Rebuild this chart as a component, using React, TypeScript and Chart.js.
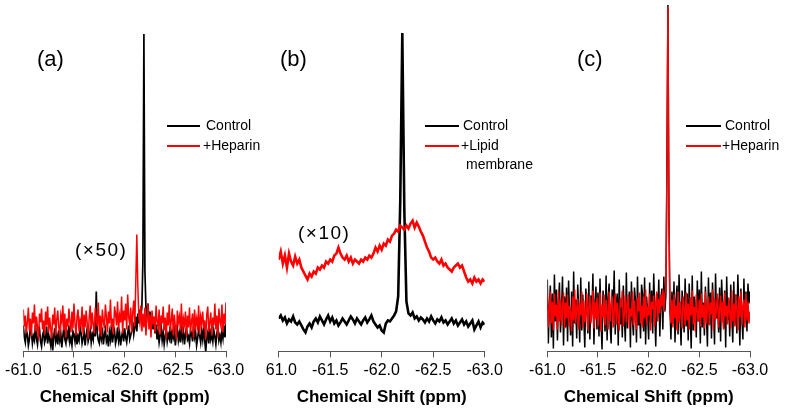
import React, { useEffect, useRef } from "react";
import { Chart, registerables } from "chart.js";

Chart.register(...registerables);

// Chemical shift sampling (ppm): fine grid (0.01 ppm) for (a),(c); coarse grid (0.02 ppm) for (b)
const ppmFine: number[] = Array.from({ length: 201 }, (_, i) => +(-61 - 0.01 * i).toFixed(2));
const ppmCoarse: number[] = Array.from({ length: 101 }, (_, i) => +(-61 - 0.02 * i).toFixed(2));

const xTicks = [-61.0, -61.5, -62.0, -62.5, -63.0];

// Panel (a): Control vs +Heparin (x50)
const controlA = [
  26, 14, 9, 21, 17, 6, 12, 24, 19, 8, 15, 11, 27, 13, 7, 18, 22, 10, 5, 16,
  20, 9, 13, 25, 8, 17, 12, 6, 19, 1, 14, 23, 10, 16, 7, 21, 11, 18, 4, 15,
  24, 12, 8, 19, 14, 26, 9, 13, 6, 20, 17, 10, 22, 7, 15, 11, 25, 18, 8, 13,
  19, 6, 16, 23, 10, 14, 21, 9, 17, 12, 26, 15, 60, 18, 11, 8, 20, 13, 24, 7,
  16, 22, 10, 14, 5, 19, 12, 27, 9, 17, 21, 8, 13, 24, 11, 18, 6, 15, 20, 10,
  23, 14, 9, 18, 26, 12, 16, 21, 30, 17, 24, 35, 20, 38, 28, 42, 33, 45, 90, 318,
  80, 44, 36, 48, 30, 40, 26, 35, 22, 31, 18, 27, 12, 20, 9, 16, 24, 11, 19, 7,
  15, 22, 10, 17, 13, 25, 8, 19, 14, 21, 6, 16, 23, 11, 18, 9, 26, 13, 20, 7,
  17, 24, 12, 15, 8, 21, 18, 10, 27, 14, 19, 6, 13, 22, 16, 9, 20, 12, 25, 11,
  0, 14, 19, 8, 23, 12, 17, 10, 21, 15, 7, 18, 24, 11, 16, 9, 20, 13, 26, 14,
  28,
];
const heparinA = [
  42, 25, 36, 18, 30, 44, 21, 33, 15, 39, 28, 47, 20, 35, 24, 12, 38, 29, 43, 22,
  31, 17, 40, 26, 45, 19, 34, 23, 13, 37, 27, 44, 16, 32, 41, 24, 18, 36, 29, 46,
  21, 38, 14, 33, 25, 43, 30, 19, 40, 23, 48, 28, 16, 35, 42, 20, 31, 26, 45, 17,
  37, 24, 41, 29, 13, 34, 46, 22, 39, 27, 18, 44, 32, 25, 49, 20, 36, 15, 42, 30,
  23, 47, 35, 19, 40, 28, 52, 24, 33, 17, 45, 38, 26, 50, 21, 36, 29, 55, 18, 41,
  31, 48, 22, 57, 34, 27, 44, 19, 39, 51, 25, 70, 117, 65, 35, 28, 46, 20, 38, 24,
  44, 16, 33, 48, 22, 37, 14, 41, 27, 35, 19, 46, 30, 24, 42, 17, 36, 28, 45, 21,
  34, 13, 39, 26, 47, 20, 31, 43, 16, 37, 25, 12, 41, 29, 35, 22, 48, 18, 33, 27,
  40, 15, 36, 24, 44, 19, 30, 38, 14, 42, 26, 33, 21, 46, 17, 35, 28, 40, 23, 31,
  12, 37, 45, 20, 29, 39, 16, 34, 26, 48, 22, 36, 14, 43, 30, 25, 47, 19, 38, 27,
  49,
];

// Panel (b): Control vs +Lipid membrane (x10)
const controlB = [
  33, 36, 31, 34, 28, 32, 30, 35, 29, 27,
  30, 26, 22, 19, 25, 28, 24, 30, 33, 29,
  35, 31, 27, 32, 36, 30, 34, 28, 31, 26,
  29, 33, 30, 27, 31, 35, 32, 28, 33, 30,
  27, 31, 34, 29, 32, 36, 30, 27, 24, 26,
  21, 19, 28, 31, 30, 33, 36, 40, 55, 150,
  319, 140, 50, 38, 36, 39, 33, 35, 31, 34,
  32, 29, 33, 30, 35, 31, 28, 32, 30, 34,
  29, 31, 27, 30, 33, 28, 31, 26, 29, 32,
  27, 30, 25, 28, 31, 22, 26, 30, 24, 29, 27,
];
const lipidB = [
  92, 100, 88, 96, 84, 98, 90, 86, 95, 88,
  92, 84, 80, 76, 72, 78, 75, 80, 78, 84,
  82, 86, 84, 90, 88, 92, 90, 96, 98, 104,
  98, 94, 92, 96, 90, 94, 88, 92, 90, 88,
  92, 90, 94, 92, 96, 94, 98, 104, 100, 106,
  102, 108, 106, 112, 110, 116, 118, 122, 120, 126,
  124, 122, 126, 123, 128, 131, 124, 129, 125, 120,
  116, 110, 104, 100, 94, 92, 94, 90, 88, 92,
  86, 88, 84, 82, 80, 84, 86, 88, 84, 86,
  80, 74, 70, 72, 68, 74, 70, 72, 68, 72, 70,
];

// Panel (c): Control vs +Heparin
const controlC = [
  72, 8, 45, 66, 14, 58, 3, 77, 30, 62, 11, 50, 69, 19, 40, 75, 6, 55, 24, 64,
  10, 71, 36, 16, 60, 5, 80, 28, 52, 13, 67, 42, 9, 74, 21, 57, 33, 4, 63, 47,
  18, 70, 12, 56, 38, 78, 7, 49, 65, 22, 59, 15, 73, 31, 2, 61, 44, 20, 76, 11,
  54, 68, 25, 8, 62, 39, 81, 17, 46, 58, 6, 72, 27, 53, 14, 66, 35, 10, 79, 23,
  48, 60, 4, 70, 32, 16, 64, 51, 9, 75, 26, 43, 13, 67, 57, 20, 74, 7, 55, 37,
  12, 69, 29, 61, 18, 78, 41, 5, 58, 34, 72, 15, 50, 63, 22, 75, 40, 56, 180, 347,
  140, 45, 12, 60, 28, 70, 9, 52, 66, 17, 77, 34, 6, 61, 43, 19, 73, 25, 58, 11,
  68, 38, 3, 76, 21, 55, 47, 14, 71, 30, 62, 8, 80, 24, 49, 16, 65, 36, 5, 74,
  27, 59, 13, 69, 42, 7, 78, 33, 54, 19, 64, 10, 72, 45, 23, 61, 4, 75, 31, 52,
  15, 67, 39, 9, 70, 26, 57, 18, 77, 44, 6, 63, 35, 12, 73, 29, 60, 20, 68, 48,
  60,
];
const heparinC = [
  56, 24, 41, 60, 28, 50, 21, 58, 35, 47, 22, 61, 30, 52, 26, 44, 59, 23, 49, 33,
  57, 25, 46, 38, 20, 55, 31, 62, 27, 43, 53, 22, 48, 36, 60, 24, 51, 29, 40, 58,
  21, 45, 56, 28, 37, 61, 23, 50, 32, 54, 25, 42, 59, 20, 47, 34, 57, 26, 52, 39,
  22, 60, 30, 46, 55, 24, 41, 58, 27, 49, 36, 21, 53, 44, 61, 25, 38, 56, 29, 48,
  57, 23, 43, 35, 60, 26, 51, 31, 22, 54, 40, 59, 28, 46, 24, 55, 33, 62, 27, 45,
  36, 58, 21, 50, 42, 56, 25, 47, 60, 30, 53, 38, 57, 45, 62, 40, 58, 60, 175, 345,
  135, 40, 28, 52, 24, 57, 33, 46, 21, 60, 29, 50, 38, 23, 55, 43, 26, 59, 31, 48,
  22, 54, 36, 61, 27, 45, 20, 57, 40, 30, 52, 25, 58, 34, 47, 23, 60, 28, 43, 55,
  26, 49, 37, 62, 21, 53, 32, 44, 58, 24, 41, 56, 29, 50, 22, 59, 35, 46, 27, 54,
  39, 23, 61, 30, 48, 25, 57, 42, 21, 55, 34, 60, 26, 45, 52, 24, 58, 31, 50, 28,
  40,
];

const FONT = "'Liberation Sans', Arial, Helvetica, sans-serif";

type PanelProps = {
  xs: number[];
  black: number[];
  red: number[];
  blackWidth: number;
  redWidth: number;
  padLeft: number;
  padRight: number;
  width: number;
};

function Panel({ xs, black, red, blackWidth, redWidth, padLeft, padRight, width }: PanelProps) {
  const ref = useRef<HTMLCanvasElement | null>(null);
  useEffect(() => {
    if (!ref.current) return;
    const chart = new Chart(ref.current, {
      type: "line",
      data: {
        datasets: [
          {
            label: "Control",
            data: xs.map((x, i) => ({ x, y: black[i] })),
            borderColor: "#000000",
            borderWidth: blackWidth,
            pointRadius: 0,
            tension: 0,
            fill: false,
            order: 2,
          },
          {
            label: "Sample",
            data: xs.map((x, i) => ({ x, y: red[i] })),
            borderColor: "#ff0000",
            borderWidth: redWidth,
            pointRadius: 0,
            tension: 0,
            fill: false,
            order: 1,
          },
        ],
      },
      options: {
        animation: false,
        responsive: false,
        maintainAspectRatio: false,
        layout: { padding: { left: padLeft, right: padRight, top: 2, bottom: 0 } },
        plugins: { legend: { display: false }, tooltip: { enabled: false } },
        scales: {
          x: {
            type: "linear",
            min: -63,
            max: -61,
            reverse: true,
            afterBuildTicks: (scale: any) => {
              scale.ticks = xTicks.map((v) => ({ value: v }));
            },
            ticks: {
              color: "#000000",
              font: { family: FONT, size: 16 },
              padding: 4,
              maxRotation: 0,
              autoSkip: false,
              callback: (v: any) => Number(v).toFixed(1),
            },
            grid: {
              display: true,
              drawOnChartArea: false,
              drawTicks: true,
              tickLength: 6,
              color: "#555555",
            },
            border: { display: true, color: "#555555", width: 1 },
            title: {
              display: true,
              text: "Chemical Shift (ppm)",
              color: "#000000",
              font: { family: FONT, size: 17, weight: "bold" },
              padding: { top: 3, bottom: 0 },
            },
          },
          y: { display: false, min: 0, max: 350 },
        },
      },
    });
    return () => chart.destroy();
  }, []);
  return <canvas ref={ref} width={width} height={408} style={{ display: "block", width, height: 408 }} />;
}

const txt: React.CSSProperties = {
  position: "absolute",
  fontFamily: FONT,
  color: "#000",
  whiteSpace: "nowrap",
  lineHeight: 1,
};

function LegendLine({ left, top, width, color }: { left: number; top: number; width: number; color: string }) {
  return <div style={{ position: "absolute", left, top, width, height: 1.5, background: color }} />;
}

export default function App() {
  return (
    <div style={{ position: "absolute", left: 0, top: 0, width: 785, height: 408, background: "#fff", overflow: "hidden" }}>
      {/* Panel (a) */}
      <div style={{ position: "absolute", left: 0, top: 0, width: 262, height: 408 }}>
        <Panel xs={ppmFine} black={controlA} red={heparinA} blackWidth={1.7} redWidth={1.5} padLeft={23.3} padRight={36} width={262} />
      </div>
      {/* Panel (b) */}
      <div style={{ position: "absolute", left: 266, top: 0, width: 258, height: 408, overflow: "hidden" }}>
        <div style={{ position: "absolute", left: -16, top: 0 }}>
          <Panel xs={ppmCoarse} black={controlB} red={lipidB} blackWidth={2.6} redWidth={2.6} padLeft={28.7} padRight={27.3} width={262} />
        </div>
      </div>
      {/* Panel (c) */}
      <div style={{ position: "absolute", left: 524, top: 0, width: 261, height: 408 }}>
        <Panel xs={ppmFine} black={controlC} red={heparinC} blackWidth={1.5} redWidth={1.5} padLeft={23.3} padRight={35} width={261} />
      </div>

      {/* Panel labels */}
      <div style={{ ...txt, left: 37, top: 48, fontSize: 22 }}>(a)</div>
      <div style={{ ...txt, left: 280, top: 48, fontSize: 22 }}>(b)</div>
      <div style={{ ...txt, left: 577, top: 48, fontSize: 22 }}>(c)</div>

      {/* Scale factors */}
      <div style={{ ...txt, left: 75, top: 240, fontSize: 19, letterSpacing: 1.5 }}>(×50)</div>
      <div style={{ ...txt, left: 298, top: 223, fontSize: 19, letterSpacing: 1.5 }}>(×10)</div>

      {/* Legend (a) */}
      <LegendLine left={167} top={125} width={33} color="#000" />
      <div style={{ ...txt, left: 206, top: 118, fontSize: 14 }}>Control</div>
      <LegendLine left={167} top={145} width={33} color="#ff0000" />
      <div style={{ ...txt, left: 203, top: 138, fontSize: 14 }}>+Heparin</div>

      {/* Legend (b) */}
      <LegendLine left={425} top={125} width={34} color="#000" />
      <div style={{ ...txt, left: 463, top: 118, fontSize: 14 }}>Control</div>
      <LegendLine left={425} top={145} width={34} color="#ff0000" />
      <div style={{ ...txt, left: 461, top: 138, fontSize: 14 }}>+Lipid</div>
      <div style={{ ...txt, left: 466, top: 157, fontSize: 14 }}>membrane</div>

      {/* Legend (c) */}
      <LegendLine left={686} top={125} width={35} color="#000" />
      <div style={{ ...txt, left: 725, top: 118, fontSize: 14 }}>Control</div>
      <LegendLine left={686} top={145} width={35} color="#ff0000" />
      <div style={{ ...txt, left: 722, top: 138, fontSize: 14 }}>+Heparin</div>
    </div>
  );
}
